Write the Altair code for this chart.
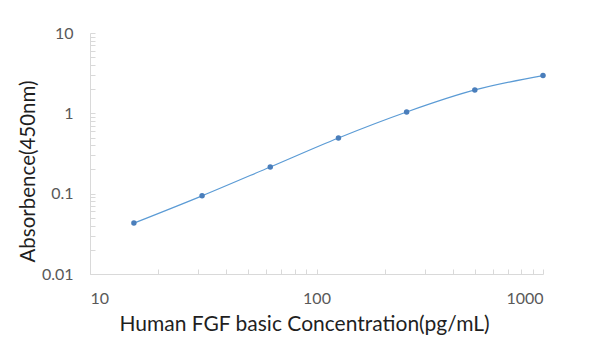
import altair as alt
import pandas as pd

# Data
conc = [15.625, 31.25, 62.5, 125, 250, 500, 1000]
absorb = [0.043, 0.094, 0.215, 0.494, 1.04, 1.955, 2.95]

x_major = [10, 100, 1000]
y_major = [0.01, 0.1, 1, 10]
x_minor = [10, 20, 30, 40, 50, 60, 70, 80, 90,
           100, 200, 300, 400, 500, 600, 700, 800, 900, 1000]
y_minor = [0.01, 0.02, 0.03, 0.04, 0.05, 0.06, 0.07, 0.08, 0.09,
           0.1, 0.2, 0.3, 0.4, 0.5, 0.6, 0.7, 0.8, 0.9,
           1, 2, 3, 4, 5, 6, 7, 8, 9, 10]

df = pd.DataFrame({"conc": conc, "abs": absorb})

W, H = 453, 241
FONT = "Lato"
AXIS_GRAY = "#d9d9d9"
LABEL_GRAY = "#595959"

xscale = alt.Scale(type="log", domain=[10, 1000], nice=False)
yscale = alt.Scale(type="log", domain=[0.01, 10], nice=False)

line = alt.Chart(df).mark_line(
    interpolate="monotone", color="#5b9bd5", strokeWidth=1.2
).encode(
    x=alt.X("conc:Q", scale=xscale,
            title="Human FGF basic Concentration(pg/mL)",
            axis=alt.Axis(orient="bottom", values=x_major, format="~g",
                          ticks=False, tickSize=0, grid=False,
                          domainColor=AXIS_GRAY, domainWidth=1,
                          labelColor=LABEL_GRAY, labelFont=FONT,
                          labelFontSize=16, labelPadding=16,
                          titleFont=FONT, titleFontSize=21,
                          titleFontWeight="normal", titleColor="#1f1f1f",
                          titleX=214, titleY=56, titleBaseline="alphabetic")),
    y=alt.Y("abs:Q", scale=yscale, title="Absorbence(450nm)",
            axis=alt.Axis(orient="left", values=y_major, format="~g",
                          ticks=False, tickSize=0, grid=False,
                          domainColor=AXIS_GRAY, domainWidth=1,
                          labelColor=LABEL_GRAY, labelFont=FONT,
                          labelFontSize=16, labelPadding=17,
                          titleFont=FONT, titleFontSize=20.5,
                          titleFontWeight="normal", titleColor="#1f1f1f",
                          titleX=-56, titleY=138, titleBaseline="alphabetic")),
)

points = alt.Chart(df).mark_point(
    filled=True, size=30, color="#4a7ebb", opacity=1
).encode(
    x=alt.X("conc:Q", scale=xscale, title=None,
            axis=alt.Axis(orient="top", offset=-H, values=x_minor,
                          labels=False, domain=False, grid=False,
                          ticks=True, tickSize=5, tickColor=AXIS_GRAY)),
    y=alt.Y("abs:Q", scale=yscale, title=None,
            axis=alt.Axis(orient="right", offset=-W, values=y_minor,
                          labels=False, domain=False, grid=False,
                          ticks=True, tickSize=5, tickColor=AXIS_GRAY)),
)

chart = alt.layer(line, points).resolve_axis(
    x="independent", y="independent"
).properties(
    width=W, height=H,
    padding={"left": 90, "top": 33, "right": 55, "bottom": 76},
    autosize=alt.AutoSizeParams(type="none"),
).configure_view(stroke=None)

chart.save("out.html", embed_options={"renderer": "svg", "actions": False})
